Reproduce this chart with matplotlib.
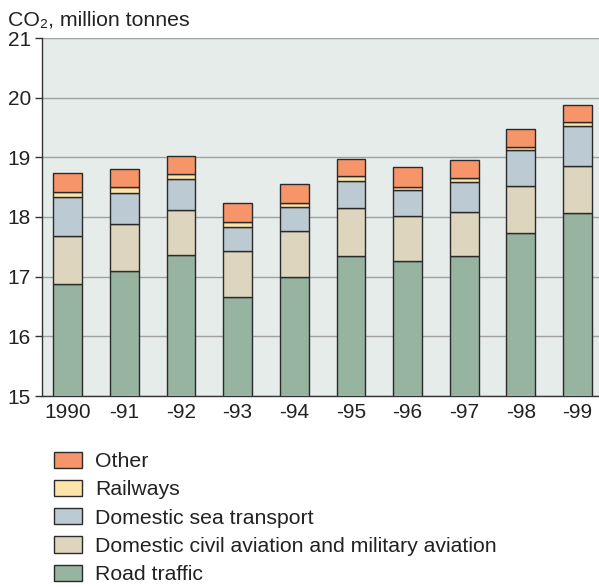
import matplotlib
matplotlib.use("Agg")
import matplotlib.pyplot as plt
import numpy as np

years = ["1990", "-91", "-92", "-93", "-94", "-95", "-96", "-97", "-98", "-99"]
road = [16.87, 17.09, 17.36, 16.66, 16.99, 17.34, 17.26, 17.34, 17.74, 18.06]
aviation = [0.81, 0.79, 0.76, 0.77, 0.78, 0.81, 0.75, 0.74, 0.78, 0.80]
sea = [0.65, 0.52, 0.51, 0.41, 0.39, 0.45, 0.44, 0.51, 0.60, 0.66]
rail = [0.09, 0.10, 0.09, 0.07, 0.07, 0.08, 0.06, 0.06, 0.06, 0.07]
other = [0.31, 0.30, 0.30, 0.32, 0.32, 0.30, 0.32, 0.30, 0.29, 0.29]

series = [
    ("Road traffic", road, "#97b4a0"),
    ("Domestic civil aviation and military aviation", aviation, "#ddd5bd"),
    ("Domestic sea transport", sea, "#bccbd3"),
    ("Railways", rail, "#fde4a8"),
    ("Other", other, "#f7956a"),
]

plt.rcParams['font.family'] = ['Liberation Sans', 'DejaVu Sans']

fig = plt.figure(figsize=(5.99, 5.87), dpi=100)
ax = fig.add_axes([42/599, 1-396/587, 1-42/599, (396-38)/587])
ax.set_facecolor("#e6ecea")

x = np.arange(len(years))
bottom = np.zeros(len(years))
handles = []
for label, vals, col in series:
    vals = np.array(vals)
    h = ax.bar(x, vals, width=0.507, bottom=bottom, color=col, edgecolor="#2a2a2a",
               linewidth=1.0, label=label, zorder=3)
    handles.append(h)
    bottom = bottom + vals

ax.set_ylim(15, 21)
ax.set_xlim(-0.454, 9.38)
ax.set_yticks(range(15, 22))
ax.set_xticks(x)
ax.set_xticklabels(years)
ax.yaxis.grid(True, color="#a0a0a0", linewidth=1.0, zorder=0)
ax.set_axisbelow(True)
for s in ["top", "right"]:
    ax.spines[s].set_visible(False)
for s in ["left", "bottom"]:
    ax.spines[s].set_color("#333333")
    ax.spines[s].set_linewidth(1.0)
ax.tick_params(axis="y", length=5, width=1, color="#333333", labelsize=15, pad=3)
ax.tick_params(axis="x", length=0, labelsize=15, pad=5)
for t in ax.get_xticklabels() + ax.get_yticklabels():
    t.set_color("#222222")

fig.text(8/599, 1-25/587, "CO₂, million tonnes", fontsize=15.3, color="#222222",
         va="baseline", ha="left")

leg = fig.legend(handles[::-1], [s[0] for s in series][::-1],
                 loc="upper left", bbox_to_anchor=(45/599, 1-443/587),
                 frameon=False, fontsize=15.3, handlelength=1.36, handleheight=0.8,
                 labelspacing=0.415, handletextpad=0.6, borderaxespad=0)
for t in leg.get_texts():
    t.set_color("#222222")

fig.savefig("out.png", dpi=100)
